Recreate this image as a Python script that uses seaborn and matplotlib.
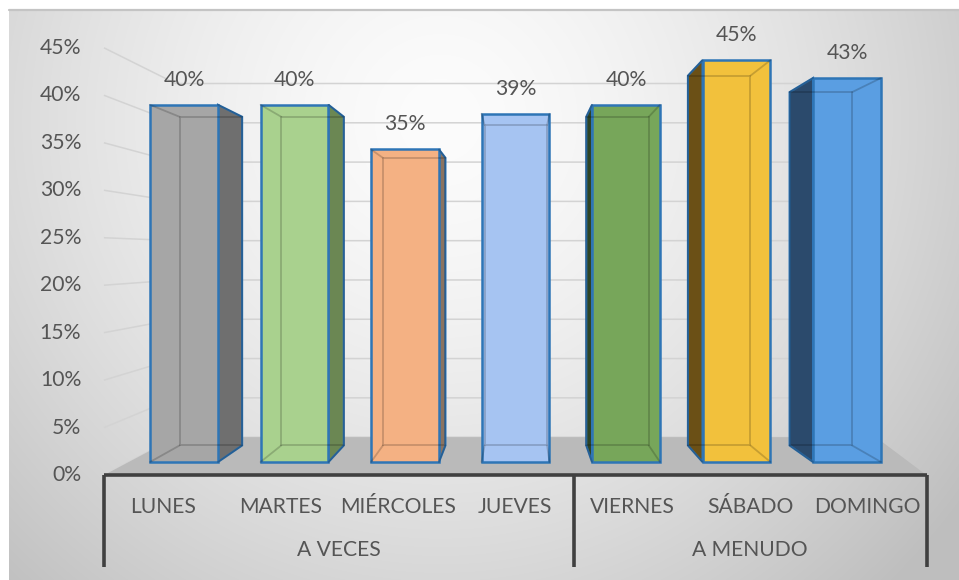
import numpy as np
import pandas as pd
import matplotlib
matplotlib.use("Agg")
import matplotlib.pyplot as plt
from matplotlib.patches import Polygon, Rectangle
from matplotlib.lines import Line2D
import seaborn as sns

# ---- data -------------------------------------------------------------
dias = ["LUNES", "MARTES", "MIÉRCOLES", "JUEVES", "VIERNES", "SÁBADO", "DOMINGO"]
grupos = ["A VECES", "A MENUDO"]
dias_por_grupo = [4, 3]
valores = [40, 40, 35, 39, 40, 45, 43]
ticks_pct = [0, 5, 10, 15, 20, 25, 30, 35, 40, 45]

# ---- styling ----------------------------------------------------------
color_frente = ["#a6a6a6", "#a9d18e", "#f4b183", "#a6c4f2",
                "#77a65a", "#f2c13c", "#5a9ee2"]
color_lado = ["#6f6f6f", "#6b8753", "#8b7360", "#6f8bb5",
              "#2e4426", "#6b5016", "#2b4a6c"]
borde = "#2e75b6"
texto = "#555555"
FS = 15.2

sns.set_style("white")
plt.rcParams["font.family"] = ["Lato", "DejaVu Sans"]

W, H = 959, 580
fig = plt.figure(figsize=(W / 100, H / 100), dpi=100)
fig.patch.set_facecolor("white")

# background: soft radial gray fade of the chart area
bg = fig.add_axes([9 / W, 0, (W - 9) / W, (H - 10) / H], zorder=0)
gx, gy = np.meshgrid(np.arange(9, W), np.arange(10, H))
d = np.sqrt(((gx - 440) / 600.0) ** 2 + ((gy - 120) / 600.0) ** 2)
g = np.clip(252 - 55 * d ** 1.5, 190, 252) / 255.0
bg.imshow(np.dstack([g, g, g]), aspect="auto", interpolation="bilinear")
bg.axis("off")
fig.add_artist(Line2D([9 / W, 1], [(H - 10) / H] * 2, color="#c4c4c4", lw=1.6))

# main axes: x in category units, y in percent at the bars' front plane
ax = fig.add_axes([0, 0, 1, 1], zorder=1)
ax.patch.set_alpha(0)

# bars (front faces)
df = pd.DataFrame({"dia": dias, "valor": valores})
sns.barplot(data=df, x="dia", y="valor", hue="dia", palette=color_frente,
            width=0.615, saturation=1, legend=False, ax=ax)
barras = [p for p in ax.patches if isinstance(p, Rectangle)]

ax.set_xlim(-184 / 110.5, (W - 184) / 110.5)
ax.set_ylim((462 - H) / 8.93, 462 / 8.93)
ax.axis("off")

# simple one-point perspective
VPX, VPY = 3.04, 23.2
T_FRONT = -0.0635   # plane of the category axis / wall front
T_BAR = 0.08        # bar depth
T_WALL = 0.12       # back wall


def proj(x, y, t):
    return x + (VPX - x) * t, y + (VPY - y) * t


x_ini, x_fin = -0.5, len(dias) - 0.5

# back wall + left wall gridlines
for v in ticks_pct:
    a = proj(x_ini, v, T_FRONT)
    b = proj(x_ini, v, T_WALL)
    c = proj(x_fin + 0.2, v, T_WALL)
    ax.plot([a[0], b[0], c[0]], [a[1], b[1], c[1]], color="#d3d3d3",
            lw=1.1, zorder=1, solid_capstyle="butt")
    ax.text(-0.93, a[1], f"{v}%", ha="right", va="center",
            fontsize=FS, color=texto, zorder=6)

# floor
piso = [proj(x_ini, 0, T_FRONT), proj(x_fin, 0, T_FRONT),
        proj(x_fin + 0.2, 0, T_WALL), proj(x_ini, 0, T_WALL)]
ax.add_patch(Polygon(piso, closed=True, facecolor="#bababa",
                     edgecolor="none", zorder=1.5))

for p, cl in zip(barras, color_lado):
    x0, w, h = p.get_x(), p.get_width(), p.get_height()
    x1 = x0 + w
    p.set_edgecolor(borde)
    p.set_linewidth(1.8)
    p.set_zorder(4)
    # hidden back edges, seen through the translucent box
    bl, br = proj(x0, 0, T_BAR), proj(x1, 0, T_BAR)
    tr, tl = proj(x1, h, T_BAR), proj(x0, h, T_BAR)
    back = [bl, br, tr, tl, bl]
    ax.plot([q[0] for q in back], [q[1] for q in back], color="black",
            alpha=0.18, lw=1.3, zorder=5)
    for (fx, fy), (bx, by) in [((x0, 0), bl), ((x1, 0), br),
                               ((x1, h), tr), ((x0, h), tl)]:
        ax.plot([fx, bx], [fy, by], color="black", alpha=0.18, lw=1.3,
                zorder=5)
    # visible side face
    if x1 < VPX:
        lado = [(x1, h), tr, br, (x1, 0)]
    elif x0 > VPX:
        lado = [(x0, h), tl, bl, (x0, 0)]
    else:
        lado = None
    if lado is not None:
        ax.add_patch(Polygon(lado, closed=True, facecolor=cl,
                             edgecolor=borde, lw=1.5, zorder=3.5))

# value labels
for i, v in enumerate(valores):
    ax.text(i, v + 2.8, f"{v}%", ha="center", va="center",
            fontsize=FS, color=texto, zorder=6)

# category axis with two levels
y_eje = proj(x_ini, 0, T_FRONT)[1]
xa, xb = proj(x_ini, 0, T_FRONT)[0], proj(x_fin, 0, T_FRONT)[0]
ax.plot([xa, xb], [y_eje, y_eje], color="#404040", lw=2.6, zorder=6,
        solid_capstyle="butt")
for i, dia in enumerate(dias):
    ax.text(proj(i, 0, T_FRONT)[0], -5.04, dia, ha="center", va="center",
            fontsize=FS, color=texto, zorder=6)

cortes = [x_ini]
for n in dias_por_grupo:
    cortes.append(cortes[-1] + n)
xs = [proj(c, 0, T_FRONT)[0] for c in cortes]
for xc in xs:
    ax.plot([xc, xc], [y_eje, (462 - 567) / 8.93], color="#404040", lw=2.6,
            zorder=6, solid_capstyle="butt")
for k, gname in enumerate(grupos):
    ax.text((xs[k] + xs[k + 1]) / 2, -9.85, gname, ha="center", va="center",
            fontsize=FS, color=texto, zorder=6)

fig.savefig("out.png", dpi=100)
